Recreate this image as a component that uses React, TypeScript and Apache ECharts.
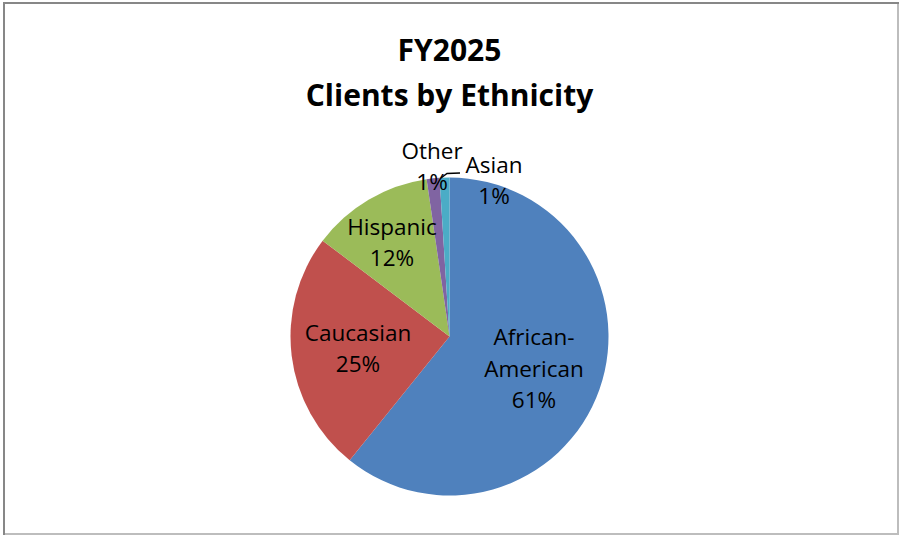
import React, { useEffect, useRef } from "react";
import * as echarts from "echarts";

const TITLE_LINES = ["FY2025", "Clients by Ethnicity"];
const categories = ["African-American", "Caucasian", "Hispanic", "Other", "Asian"];
const percentValues = [60.8, 24.5, 12.4, 1.3, 1.0];
const sliceColors = ["#4F81BD", "#C0504D", "#9BBB59", "#8064A2", "#4BACC6"];
// label anchor positions (style only)
const labelPositions = [
  [534, 368],
  [358, 348],
  [392, 242],
  [432, 166],
  [494, 180],
];

export default function App() {
  const ref = useRef<HTMLDivElement>(null);
  useEffect(() => {
    if (!ref.current) return;
    const chart = echarts.init(ref.current, undefined, { renderer: "svg" });
    const data = categories.map((name, i) => ({
      name,
      value: percentValues[i],
      itemStyle: { color: sliceColors[i] },
    }));
    const titleTexts = TITLE_LINES.map((t, i) => ({
      type: "text",
      x: 449.5,
      y: 49 + i * 45,
      style: {
        text: t,
        align: "center",
        verticalAlign: "middle",
        fontFamily: "'Open Sans', sans-serif",
        fontWeight: "bold",
        fontSize: 30,
        fill: "#000000",
      },
    }));
    chart.setOption({
      animation: false,
      backgroundColor: "#ffffff",
      graphic: [
        ...titleTexts,
        { type: "line", shape: { x1: 3, y1: 3, x2: 899, y2: 3 }, style: { stroke: "#878787", lineWidth: 2 } },
        { type: "line", shape: { x1: 4, y1: 2, x2: 4, y2: 535 }, style: { stroke: "#878787", lineWidth: 2 } },
        { type: "line", shape: { x1: 898, y1: 4, x2: 898, y2: 535 }, style: { stroke: "#bdbdbd", lineWidth: 2 } },
        { type: "line", shape: { x1: 5, y1: 534, x2: 899, y2: 534 }, style: { stroke: "#bdbdbd", lineWidth: 2 } },
        {
          type: "polyline",
          z: 100,
          shape: { points: [[441, 178], [447, 173.5], [460, 173]] },
          style: { stroke: "#000000", lineWidth: 1.5, fill: "none" },
        },
      ],
      series: [
        {
          type: "pie",
          center: [449.5, 336.5],
          radius: 159,
          startAngle: 90,
          clockwise: true,
          avoidLabelOverlap: false,
          itemStyle: { borderWidth: 0 },
          emphasis: { disabled: true },
          label: {
            show: true,
            position: "inside",
            fontFamily: "'Open Sans', sans-serif",
            fontSize: 22.5,
            lineHeight: 31.5,
            color: "#000000",
            align: "center",
            formatter: (p: any) =>
              p.name.replace("-", "-\n") + "\n" + Math.round(p.value) + "%",
          },
          labelLine: { show: false },
          labelLayout: (params: any) => {
            const pos = labelPositions[params.dataIndex];
            return { x: pos[0], y: pos[1], align: "center", verticalAlign: "middle" };
          },
          data,
        },
      ],
    });
    return () => chart.dispose();
  }, []);
  return (
    <div
      ref={ref}
      style={{ position: "absolute", left: 0, top: 0, width: 899, height: 535, background: "#fff" }}
    />
  );
}
